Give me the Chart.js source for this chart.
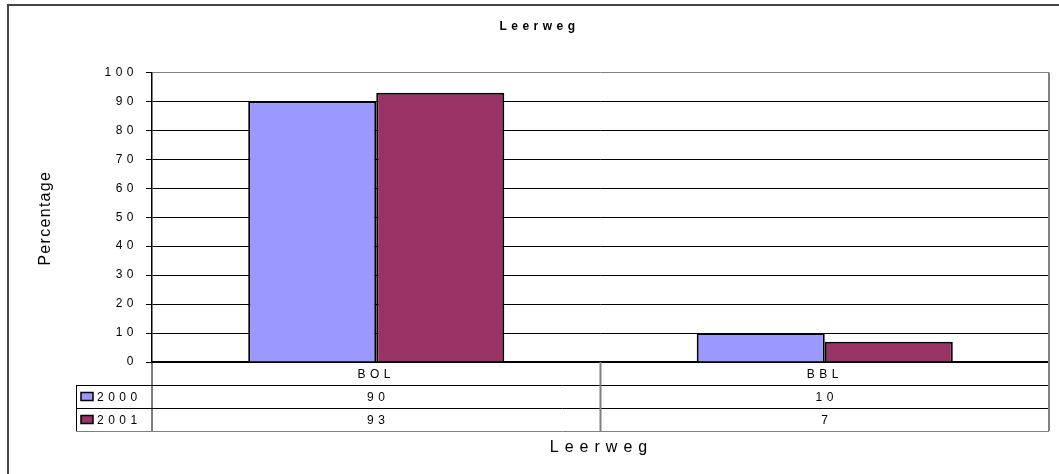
<!DOCTYPE html>
<html>
<head>
<meta charset="utf-8">
<script src="https://cdn.jsdelivr.net/npm/chart.js@4.4.1/dist/chart.umd.min.js"></script>
<style>
  html, body { margin: 0; padding: 0; background: #fff; }
  #wrap { width: 1059px; height: 474px; position: relative; }
</style>
</head>
<body>
<div id="wrap"><canvas id="leerwegChart"></canvas></div>
<script>
const categories = ['BOL', 'BBL'];
const seriesNames = ['2000', '2001'];
const values2000 = [90, 10];
const values2001 = [93, 7];
const seriesColors = ['#9999FF', '#993366'];

const FONT = '"Liberation Sans", Arial, sans-serif';
const SPACING = '4.5px';
const ROW_H = 23;

Chart.defaults.color = '#000';
Chart.defaults.font.family = FONT;

// Excel style text is letter spaced, the canvas can do that itself
const spacingPlugin = {
    id: 'spacing',
    beforeLayout(chart) { chart.ctx.letterSpacing = SPACING; },
    beforeDraw(chart) { chart.ctx.letterSpacing = SPACING; }
};

// outer frame, plot border, data table under the axis and the axis titles
const tablePlugin = {
    id: 'dataTable',
    afterDraw(chart) {
        const ctx = chart.ctx;
        const area = chart.chartArea;
        const x = chart.scales.x;
        const y0 = area.bottom;
        const y1 = y0 + ROW_H, y2 = y1 + ROW_H, y3 = y2 + ROW_H;
        const tableLeft = 76;
        const mid = (x.getPixelForValue(0) + x.getPixelForValue(1)) / 2;

        ctx.save();
        ctx.letterSpacing = '0px';

        // outer chart frame
        ctx.strokeStyle = '#444';
        ctx.lineWidth = 2;
        ctx.strokeRect(8, 5, 1100, 520);

        // table lines
        ctx.strokeStyle = '#000';
        ctx.lineWidth = 1;
        ctx.beginPath();
        ctx.moveTo(tableLeft, y1 + 0.5); ctx.lineTo(area.right, y1 + 0.5);
        ctx.moveTo(tableLeft, y2 + 0.5); ctx.lineTo(area.right, y2 + 0.5);
        ctx.moveTo(tableLeft + 0.5, y1); ctx.lineTo(tableLeft + 0.5, y3);
        ctx.moveTo(area.left, y0); ctx.lineTo(area.left, y3);
        ctx.stroke();

        ctx.strokeStyle = '#808080';
        ctx.beginPath();
        ctx.moveTo(tableLeft, y3 + 0.5); ctx.lineTo(area.right, y3 + 0.5);
        ctx.stroke();

        ctx.lineWidth = 2;
        ctx.beginPath();
        ctx.moveTo(mid, y0); ctx.lineTo(mid, y3);
        ctx.moveTo(area.right, area.top); ctx.lineTo(area.right, y3);
        ctx.stroke();

        // row headers with legend keys and the values
        const rows = [values2000, values2001];
        ctx.font = '12px ' + FONT;
        ctx.textBaseline = 'middle';
        rows.forEach((vals, r) => {
            const cy = y1 + ROW_H * r + ROW_H / 2;
            ctx.fillStyle = seriesColors[r];
            ctx.fillRect(81, cy - 4, 12, 8);
            ctx.strokeStyle = '#000';
            ctx.lineWidth = 1.5;
            ctx.strokeRect(81, cy - 4, 12, 8);

            ctx.letterSpacing = SPACING;
            ctx.fillStyle = '#000';
            ctx.textAlign = 'left';
            ctx.fillText(seriesNames[r], 97, cy + 1);
            ctx.textAlign = 'center';
            vals.forEach((v, i) => {
                ctx.fillText(String(v), x.getPixelForValue(i) + 2, cy + 1);
            });
        });

        // axis titles
        ctx.letterSpacing = '6px';
        ctx.font = '16px ' + FONT;
        ctx.textAlign = 'center';
        ctx.fillText('Leerweg', (area.left + area.right) / 2 + 1, y3 + 17);

        ctx.letterSpacing = '1.3px';
        ctx.translate(46, (area.top + area.bottom) / 2 + 1);
        ctx.rotate(-Math.PI / 2);
        ctx.fillText('Percentage', 0, 0);
        ctx.restore();
    }
};

new Chart(document.getElementById('leerwegChart'), {
    type: 'bar',
    data: {
        labels: categories,
        datasets: [
            {
                label: seriesNames[0],
                data: values2000,
                backgroundColor: seriesColors[0],
                borderColor: '#000',
                borderWidth: 2
            },
            {
                label: seriesNames[1],
                data: values2001,
                backgroundColor: seriesColors[1],
                borderColor: '#000',
                borderWidth: 2
            }
        ]
    },
    options: {
        responsive: true,
        maintainAspectRatio: false,
        animation: false,
        layout: { padding: { left: 30, right: 10, top: 0, bottom: 0 } },
        datasets: {
            bar: { categoryPercentage: 0.571, barPercentage: 1 }
        },
        plugins: {
            legend: { display: false },
            tooltip: { enabled: false },
            title: {
                display: true,
                text: 'Leerweg',
                color: '#000',
                font: { size: 12, weight: 'bold' },
                padding: { top: 19, bottom: 39 }
            }
        },
        scales: {
            x: {
                grid: { display: false, drawTicks: false },
                border: { color: '#000', width: 1.5 },
                ticks: { font: { size: 12 }, padding: 5 },
                afterFit(scale) { scale.height = 112; }
            },
            y: {
                min: 0,
                max: 100,
                ticks: { stepSize: 10, font: { size: 12 }, padding: 8 },
                grid: {
                    color: (c) => c.tick && c.tick.value === 100 ? '#808080' : '#000',
                    tickColor: '#000',
                    tickLength: 6
                },
                border: { color: '#000', width: 1.5 },
                afterFit(scale) { scale.width = 122; }
            }
        }
    },
    plugins: [spacingPlugin, tablePlugin]
});
</script>
</body>
</html>
